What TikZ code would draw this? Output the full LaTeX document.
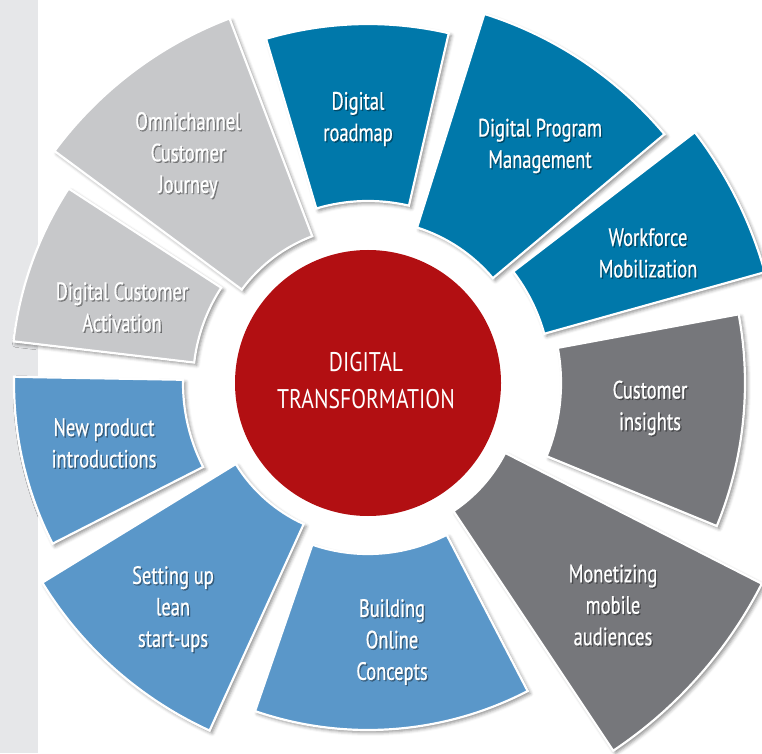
\documentclass[tikz,border=0pt]{standalone}
\usepackage{fontspec}
\setmainfont{PT Sans}[FakeStretch=0.8]
\newfontfamily\labelfont{PT Sans}[FakeStretch=0.74, FakeBold=0.6]
\usetikzlibrary{shadows.blur}

\definecolor{deepblue}{HTML}{0078AA}
\definecolor{softblue}{HTML}{5A97C9}
\definecolor{palegray}{HTML}{C7C8CA}
\definecolor{slategray}{HTML}{76777B}
\definecolor{corered}{HTML}{B20F12}
\definecolor{stripgray}{HTML}{E6E7E9}

\tikzset{
  sectorbox/.style={draw=white, line width=2.2pt, line join=miter,
    blur shadow={shadow xshift=2.5pt, shadow yshift=-2.5pt,
      shadow blur radius=3.5pt, shadow opacity=45}},
  lbl/.style={text=white, align=center, inner sep=0pt,
    font=\labelfont\fontsize{25}{31.5}\selectfont},
  lblshade/.style={lbl, text=black, opacity=0.35},
}

% annular wedge around the hub: start angle, end angle, inner radius, outer radius, colour
\newcommand\ringpart[5]{%
  \path[sectorbox, fill=#5] ([shift={(#1:#3)}]hub) arc[start angle=#1, end angle=#2, radius=#3]
    -- ([shift={(#2:#4)}]hub) arc[start angle=#2, end angle=#1, radius=#4] -- cycle;}

% white label with a soft dark shadow behind it
\newcommand\ringlabel[3]{%
  \node[lblshade] (#1-shade) at ([shift={(1.3,-1.3)}]#2) {#3};
  \node[lbl] (#1) at (#2) {#3};}

\begin{document}
\begin{tikzpicture}[x=1pt, y=1pt]
  \useasboundingbox (0,0) rectangle (762,753);
  \fill[stripgray] (0,0) rectangle (38,753);
  \coordinate (hub) at (368,370);

  \begin{scope}
    \clip (0,0) rectangle (762,753);
    \ringpart{77}{106.5}{182}{359}{deepblue}
    \ringpart{40}{72.5}{163}{387}{deepblue}
    \ringpart{15.6}{37.5}{183}{412}{deepblue}
    \ringpart{-22.3}{10.5}{193}{377}{slategray}
    \ringpart{-56.3}{-27}{154}{442}{slategray}
    \ringpart{-109}{-62.6}{171}{347}{softblue}
    \ringpart{211.5}{245.5}{155}{382}{softblue}
    \ringpart{179}{207}{185}{354}{softblue}
    \ringpart{147}{173.3}{175}{357}{palegray}
    \ringpart{110.8}{143.5}{157}{390}{palegray}
  \end{scope}

  \fill[corered] (hub) circle[radius=133];

  \ringlabel{roadmap}{358,634}{Digital\\roadmap}
  \ringlabel{program}{540,607}{Digital Program\\Management}
  \ringlabel{workforce}{648,500}{Workforce\\Mobilization}
  \ringlabel{insights}{650,345}{Customer\\insights}
  \ringlabel{monetizing}{613,148}{Monetizing\\mobile\\audiences}
  \ringlabel{building}{392,111}{Building\\Online\\Concepts}
  \ringlabel{lean}{173,144}{Setting up\\lean\\start-ups}
  \ringlabel{newprod}{104,310}{New product\\introductions}
  \ringlabel{activation}{122,446}{Digital Customer\\Activation}
  \ringlabel{omni}{188,598}{Omnichannel\\Customer\hspace*{18pt}\\Journey}

  \node[text=white, align=center, inner sep=0pt,
    font=\fontsize{27}{37}\selectfont] (core) at (366,372)
    {DIGITAL\\TRANSFORMATION};
\end{tikzpicture}
\end{document}
